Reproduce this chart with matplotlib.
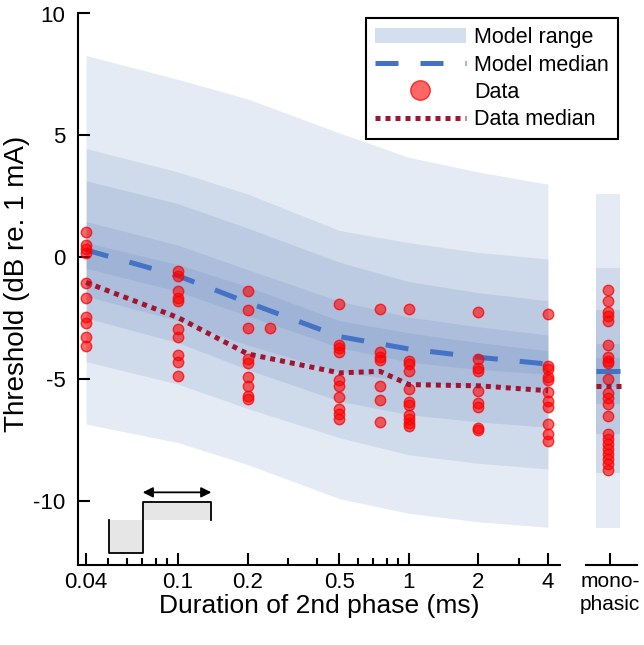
import matplotlib
matplotlib.use('Agg')
import matplotlib.pyplot as plt
from matplotlib.patches import Patch, Polygon
from matplotlib.lines import Line2D

plt.rcParams['font.family'] = ['Liberation Sans', 'DejaVu Sans']
plt.rcParams['axes.unicode_minus'] = False

# model bands (nested percentile ranges)
durations = [0.04, 0.1, 0.2, 0.5, 1, 2, 4]
band1_hi = [8.28, 7.3, 6.5, 5.1, 4.1, 3.5, 3.0]
band1_lo = [-6.84, -7.6, -8.5, -9.9, -10.5, -10.85, -11.07]
band2_hi = [4.46, 3.5, 2.6, 1.1, 0.6, 0.2, -0.07]
band2_lo = [-4.28, -5.2, -6.2, -7.4, -8.1, -8.45, -8.68]
band3_hi = [3.14, 2.2, 1.2, -0.2, -1.0, -1.45, -1.78]
band3_lo = [-2.49, -3.5, -4.6, -5.9, -6.45, -6.75, -6.97]
band4_hi = [1.47, 0.5, -0.5, -1.8, -2.45, -2.85, -3.18]
band4_lo = [-1.6, -2.6, -3.6, -4.7, -5.1, -5.3, -5.4]
band5_hi = [0.6, -0.3, -1.2, -2.6, -3.1, -3.5, -3.83]
band5_lo = [-0.45, -1.4, -2.4, -3.7, -4.3, -4.6, -4.8]
model_median = [0.3, -0.76, -1.85, -3.25, -3.76, -4.1, -4.38]

# monophasic model bands (hi, lo)
mono_bands = [(2.6, -11.1), (-0.45, -8.85), (-2.15, -7.24), (-3.54, -6.0), (-4.15, -5.3)]
mono_model_median = -4.65
mono_data_median = -5.27

# measured thresholds per duration of 2nd phase
data = {
    0.04: [1.02, 0.5, 0.36, 0.16, -1.05, -1.67, -2.45, -2.7, -3.28, -3.62],
    0.1: [-0.55, -0.75, -1.4, -1.68, -1.78, -2.93, -3.28, -4.0, -4.3, -4.85],
    0.2: [-1.4, -2.15, -2.9, -4.18, -4.33, -4.92, -5.26, -5.7, -5.8],
    0.25: [-2.88],
    0.5: [-1.93, -3.58, -3.72, -3.9, -5.02, -5.26, -5.71, -6.22, -6.43, -6.63],
    0.75: [-2.13, -3.89, -4.07, -4.2, -5.28, -5.85, -6.75],
    1: [-2.1, -4.25, -4.38, -4.65, -5.39, -5.95, -6.05, -6.48, -6.64, -6.78, -6.92],
    2: [-2.25, -4.16, -4.53, -4.67, -5.5, -5.96, -6.14, -7.0, -7.1],
    4: [-2.34, -4.45, -4.59, -4.9, -5.03, -5.54, -5.88, -6.12, -6.83, -7.26, -7.54],
}
mono_data = [-1.35, -1.8, -2.24, -2.4, -2.61, -3.59, -4.07, -4.27, -4.34, -5.01, -5.55,
             -5.76, -6.03, -6.5, -7.25, -7.45, -7.66, -7.86, -8.06, -8.27, -8.47, -8.74]

median_x = [0.04, 0.1, 0.2, 0.5, 0.75, 1, 2, 4]
data_median = [-1.03, -2.47, -3.96, -4.74, -4.68, -5.22, -5.27, -5.47]

# stimulus pulse sketch, data coords (x = duration, y = dB)
pulse_x = [0.0504, 0.0504, 0.0703, 0.0703, 0.1386, 0.1386]
pulse_y = [-10.77, -12.13, -12.13, -10.02, -10.02, -10.77]
arrow_x = (0.0703, 0.1395)
arrow_y = -9.64

xticks = [0.04, 0.1, 0.2, 0.5, 1, 2, 4]
xticklabels = ['0.04', '0.1', '0.2', '0.5', '1', '2', '4']
xminor = [0.05, 0.06, 0.07, 0.08, 0.09, 0.3, 0.4, 0.6, 0.7, 0.8, 0.9, 3]

band_color = '#5078b4'
band_alpha = 0.145
median_blue = '#4472c4'
median_red = '#a2142f'
ylim = (-12.62, 10)

fig = plt.figure(figsize=(6.44, 6.45), dpi=100)
ax = fig.add_axes([78 / 644, 1 - 565 / 645, 482 / 644, 551.5 / 645])
ax2 = fig.add_axes([586 / 644, 1 - 565 / 645, 51 / 644, 551.5 / 645])

# bands
for hi, lo in [(band1_hi, band1_lo), (band2_hi, band2_lo), (band3_hi, band3_lo),
               (band4_hi, band4_lo), (band5_hi, band5_lo)]:
    ax.fill_between(durations, lo, hi, color=band_color, alpha=band_alpha, lw=0)

ax.plot(durations, model_median, color=median_blue, lw=3.6, dashes=[4.6, 4.4],
        solid_capstyle='butt', dash_capstyle='butt', zorder=3)
for dur, vals in data.items():
    ax.plot([dur] * len(vals), vals, 'o', ms=7.5, mfc=(1, 0, 0, 0.6),
            mec=(1, 0, 0, 0.75), mew=1, zorder=4)
ax.plot(median_x, data_median, color=median_red, lw=3.6, dashes=[1, 1],
        dash_capstyle='butt', zorder=5)

ax.set_xscale('log')
ax.set_xlim(0.0369, 4.51)
ax.set_ylim(*ylim)
ax.set_xticks(xticks)
ax.set_xticklabels(xticklabels)
ax.set_xticks(xminor, minor=True)
ax.set_xticklabels([], minor=True)
ax.set_yticks([-10, -5, 0, 5, 10])
ax.set_yticklabels(['-10', '-5', '0', '5', '10'])
ax.tick_params(which='major', direction='in', length=8.5, width=1.5, labelsize=16)
ax.tick_params(axis='y', pad=9)
ax.tick_params(axis='x', pad=5)
ax.tick_params(which='minor', direction='in', length=5, width=1.5)
for s in ['top', 'right']:
    ax.spines[s].set_visible(False)
for s in ['left', 'bottom']:
    ax.spines[s].set_linewidth(1.5)
ax.set_xlabel('Duration of 2nd phase (ms)', fontsize=19, labelpad=1)
ax.set_ylabel('Threshold (dB re. 1 mA)', fontsize=20)
ax.yaxis.set_label_coords(-(78 - 30) / 482, 0.51)

# pulse sketch
fill1 = Polygon([(pulse_x[0], pulse_y[0]), (pulse_x[1], pulse_y[1]),
                 (pulse_x[2], pulse_y[2]), (pulse_x[3], pulse_y[0])],
                closed=True, fc='#e6e6e6', ec='none', zorder=6)
fill2 = Polygon([(pulse_x[2], pulse_y[0]), (pulse_x[3], pulse_y[3]),
                 (pulse_x[4], pulse_y[4]), (pulse_x[5], pulse_y[5])],
                closed=True, fc='#e6e6e6', ec='none', zorder=6)
ax.add_patch(fill1)
ax.add_patch(fill2)
ax.plot(pulse_x, pulse_y, color='k', lw=1.3, zorder=7)
ax.annotate('', xy=(arrow_x[1], arrow_y), xytext=(arrow_x[0], arrow_y),
            arrowprops=dict(arrowstyle='<|-|>', color='k', lw=1.3,
                            mutation_scale=15, shrinkA=0, shrinkB=0), zorder=7)

# monophasic panel
for hi, lo in mono_bands:
    ax2.fill_between([0.2, 0.67], lo, hi, color=band_color, alpha=band_alpha, lw=0)
ax2.plot([0.2, 0.67], [mono_model_median] * 2, color=median_blue, lw=3.6,
         solid_capstyle='butt', zorder=3)
ax2.plot([0.43] * len(mono_data), mono_data, 'o', ms=7.5, mfc=(1, 0, 0, 0.6),
         mec=(1, 0, 0, 0.75), mew=1, zorder=4)
ax2.plot([0.2, 0.69], [mono_data_median] * 2, color=median_red, lw=3.6,
         dashes=[1, 1], dash_capstyle='butt', zorder=5)
ax2.set_xlim(0, 1)
ax2.set_ylim(*ylim)
ax2.set_xticks([0.47])
ax2.set_xticklabels(['mono-\nphasic'], fontsize=15, linespacing=1.25)
ax2.set_yticks([])
ax2.tick_params(axis='x', direction='in', length=8.5, width=1.5, pad=5)
for s in ['top', 'right', 'left']:
    ax2.spines[s].set_visible(False)
ax2.spines['bottom'].set_linewidth(1.5)

handles = [
    Patch(facecolor='#d3dfee', edgecolor='none'),
    Line2D([], [], color=median_blue, lw=3.6, dashes=[4.6, 4.4]),
    Line2D([], [], ls='none', marker='o', ms=14, mfc=(1, 0, 0, 0.6), mec=(1, 0, 0, 0.75)),
    Line2D([], [], color=median_red, lw=3.6, dashes=[1, 1]),
]
labels = ['Model range', 'Model median', 'Data', 'Data median']
leg = fig.legend(handles, labels, loc='upper right', bbox_to_anchor=(618 / 644, 1 - 18 / 645),
                 fontsize=15.5, handlelength=4.2, handletextpad=0.4, labelspacing=0.3,
                 borderaxespad=0, fancybox=False, framealpha=1, edgecolor='k',
                 borderpad=0.42)
leg.get_frame().set_linewidth(1.5)

fig.savefig('out.png', dpi=100)
